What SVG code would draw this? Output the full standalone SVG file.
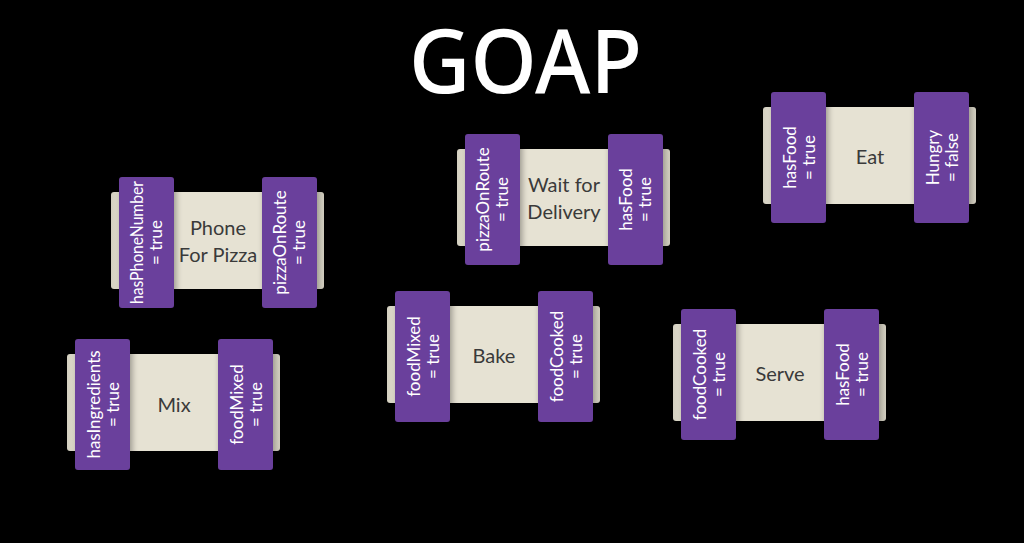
<svg xmlns="http://www.w3.org/2000/svg" width="1024" height="543" viewBox="0 0 1024 543">
<defs>
<linearGradient id="beigeGrad" x1="0" y1="0" x2="1" y2="0">
<stop offset="0" stop-color="#d3cfc0"/>
<stop offset="0.05" stop-color="#e6e2d3"/>
<stop offset="0.95" stop-color="#e6e2d3"/>
<stop offset="1" stop-color="#d3cfc0"/>
</linearGradient>
<filter id="sh" x="-30%" y="-20%" width="160%" height="140%">
<feDropShadow dx="2" dy="2" stdDeviation="3" flood-color="#000" flood-opacity="0.35"/>
</filter>
</defs>
<style>
.bg{fill:#000}
.beige{fill:url(#beigeGrad)}
.pur{fill:#6a409c;filter:url(#sh)}
.title{font-family:Lato,"Noto Sans",sans-serif;font-size:20px;fill:#3a3a3a;text-anchor:middle}
.lbl{font-family:Lato,"Noto Sans",sans-serif;font-size:17px;fill:#fff;text-anchor:middle}
.head{font-family:"Noto Sans","Open Sans",sans-serif;font-weight:500;font-size:89px;fill:#fff;text-anchor:middle}
</style>
<rect class="bg" x="0" y="0" width="1024" height="543"/>
<text class="head" x="525.5" y="93" textLength="233" lengthAdjust="spacingAndGlyphs">GOAP</text>
<g id="connectors"/>

<g id="phone" transform="translate(111,192)">
<rect class="beige" x="0" y="0" width="213" height="97" rx="3"/>
<rect class="pur" x="8" y="-15" width="55" height="131" rx="3"/>
<rect class="pur" x="151" y="-15" width="55" height="131" rx="3"/>
<text class="title" x="107" y="42.5">Phone</text>
<text class="title" x="107" y="70">For Pizza</text>
<g transform="translate(35.5,50.5) rotate(-90)"><text class="lbl" x="0" y="-4" textLength="123" lengthAdjust="spacingAndGlyphs">hasPhoneNumber</text><text class="lbl" x="0" y="15">= true</text></g>
<g transform="translate(178.5,50.5) rotate(-90)"><text class="lbl" x="0" y="-4">pizzaOnRoute</text><text class="lbl" x="0" y="15">= true</text></g>
</g>

<g id="wait" transform="translate(457,149)">
<rect class="beige" x="0" y="0" width="213" height="97" rx="3"/>
<rect class="pur" x="8" y="-15" width="55" height="131" rx="3"/>
<rect class="pur" x="151" y="-15" width="55" height="131" rx="3"/>
<text class="title" x="107" y="42.5">Wait for</text>
<text class="title" x="107" y="70">Delivery</text>
<g transform="translate(35.5,50.5) rotate(-90)"><text class="lbl" x="0" y="-4">pizzaOnRoute</text><text class="lbl" x="0" y="15">= true</text></g>
<g transform="translate(178.5,50.5) rotate(-90)"><text class="lbl" x="0" y="-4">hasFood</text><text class="lbl" x="0" y="15">= true</text></g>
</g>

<g id="eat" transform="translate(763,107)">
<rect class="beige" x="0" y="0" width="213" height="97" rx="3"/>
<rect class="pur" x="8" y="-15" width="55" height="131" rx="3"/>
<rect class="pur" x="151" y="-15" width="55" height="131" rx="3"/>
<text class="title" x="107" y="57">Eat</text>
<g transform="translate(35.5,50.5) rotate(-90)"><text class="lbl" x="0" y="-3">hasFood</text><text class="lbl" x="0" y="16">= true</text></g>
<g transform="translate(178.5,50.5) rotate(-90)"><text class="lbl" x="0" y="-3">Hungry</text><text class="lbl" x="0" y="16">= false</text></g>
</g>

<g id="mix" transform="translate(67,354)">
<rect class="beige" x="0" y="0" width="213" height="97" rx="3"/>
<rect class="pur" x="8" y="-15" width="55" height="131" rx="3"/>
<rect class="pur" x="151" y="-15" width="55" height="131" rx="3"/>
<text class="title" x="107" y="57.5">Mix</text>
<g transform="translate(35.5,50.5) rotate(-90)"><text class="lbl" x="0" y="-3">hasIngredients</text><text class="lbl" x="0" y="16">= true</text></g>
<g transform="translate(178.5,50.5) rotate(-90)"><text class="lbl" x="0" y="-3">foodMixed</text><text class="lbl" x="0" y="16">= true</text></g>
</g>

<g id="bake" transform="translate(387,306)">
<rect class="beige" x="0" y="0" width="213" height="97" rx="3"/>
<rect class="pur" x="8" y="-15" width="55" height="131" rx="3"/>
<rect class="pur" x="151" y="-15" width="55" height="131" rx="3"/>
<text class="title" x="107" y="57">Bake</text>
<g transform="translate(35.5,50.5) rotate(-90)"><text class="lbl" x="0" y="-3">foodMixed</text><text class="lbl" x="0" y="16">= true</text></g>
<g transform="translate(178.5,50.5) rotate(-90)"><text class="lbl" x="0" y="-3">foodCooked</text><text class="lbl" x="0" y="16">= true</text></g>
</g>

<g id="serve" transform="translate(673,324)">
<rect class="beige" x="0" y="0" width="213" height="97" rx="3"/>
<rect class="pur" x="8" y="-15" width="55" height="131" rx="3"/>
<rect class="pur" x="151" y="-15" width="55" height="131" rx="3"/>
<text class="title" x="107" y="57">Serve</text>
<g transform="translate(35.5,50.5) rotate(-90)"><text class="lbl" x="0" y="-3">foodCooked</text><text class="lbl" x="0" y="16">= true</text></g>
<g transform="translate(178.5,50.5) rotate(-90)"><text class="lbl" x="0" y="-3">hasFood</text><text class="lbl" x="0" y="16">= true</text></g>
</g>
</svg>
